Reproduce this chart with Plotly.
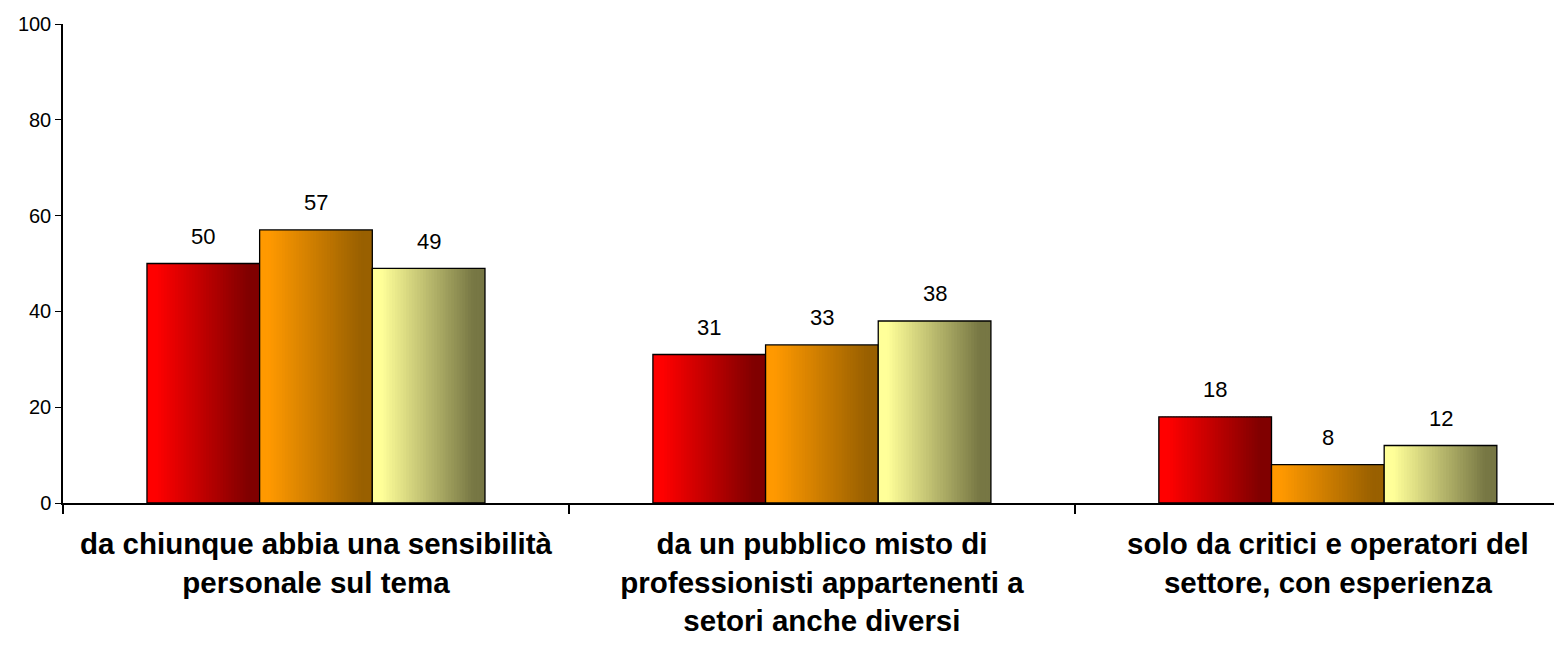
import plotly.graph_objects as go

categories = [
    "da chiunque abbia una sensibilità<br>personale sul tema",
    "da un pubblico misto di<br>professionisti appartenenti a<br>setori anche diversi",
    "solo da critici e operatori del<br>settore, con esperienza",
]
series_names = ["Serie 1", "Serie 2", "Serie 3"]
values_s1 = [50, 31, 18]
values_s2 = [57, 33, 8]
values_s3 = [49, 38, 12]
series_values = [values_s1, values_s2, values_s3]

# gradient colours (left bright -> right dark)
grad_start = [(255, 0, 0), (255, 153, 0), (255, 255, 153)]
grad_end = [(128, 0, 0), (153, 96, 0), (119, 119, 68)]

BAR_W = 0.2227
N_SLICES = 40
FONT = "Liberation Sans, Arial, sans-serif"

fig = go.Figure()
cats = ["<b>%s</b>" % c for c in categories]
n = len(cats)

for s, vals in enumerate(series_values):
    center = (s - 1) * BAR_W
    left = center - BAR_W / 2
    sw = BAR_W / N_SLICES
    for k in range(N_SLICES):
        t = (k + 0.5) / N_SLICES
        f = min(max((t - 0.08) / 0.82, 0.0), 1.0)
        c0, c1 = grad_start[s], grad_end[s]
        col = "rgb(%d,%d,%d)" % tuple(round(c0[i] + (c1[i] - c0[i]) * f) for i in range(3))
        wdt = sw * 1.6 if k < N_SLICES - 1 else sw
        fig.add_trace(go.Bar(
            x=cats, y=vals, width=[wdt] * n, offset=[left + k * sw] * n,
            marker=dict(color=col, line=dict(width=0)),
            showlegend=False, hoverinfo="skip",
        ))
    # outline
    fig.add_trace(go.Bar(
        x=cats, y=vals, width=[BAR_W] * n, offset=[left] * n,
        marker=dict(color="rgba(0,0,0,0)", line=dict(color="black", width=1.3)),
        name=series_names[s], showlegend=False,
    ))
    for i, v in enumerate(vals):
        fig.add_annotation(
            x=i + center, y=v, xref="x", yref="y", text=str(v), showarrow=False,
            yanchor="middle", yshift=27, font=dict(family=FONT, size=22, color="black"),
        )

fig.update_layout(
    width=1546, height=629,
    margin=dict(l=55, r=0, t=16, b=134, autoexpand=False),
    paper_bgcolor="white", plot_bgcolor="white",
    barmode="overlay", showlegend=False,
    font=dict(family=FONT, color="black"),
)
fig.update_xaxes(
    type="category", range=[-0.5, 2.447], automargin=False,
    tickson="boundaries", ticks="outside", ticklen=9, tickwidth=1.5, tickcolor="black",
    ticklabelstandoff=14,
    showline=True, linecolor="black", linewidth=2, showgrid=False, zeroline=False,
    tickfont=dict(family=FONT, size=29.5, color="black"), tickangle=0,
)
fig.update_yaxes(
    range=[0, 100], dtick=20, ticks="outside", ticklen=6, tickwidth=1.3, tickcolor="black",
    automargin=False,
    showline=True, linecolor="black", linewidth=1.5, showgrid=False, zeroline=False,
    tickfont=dict(family=FONT, size=20, color="black"),
)

fig.write_html("out.html")
